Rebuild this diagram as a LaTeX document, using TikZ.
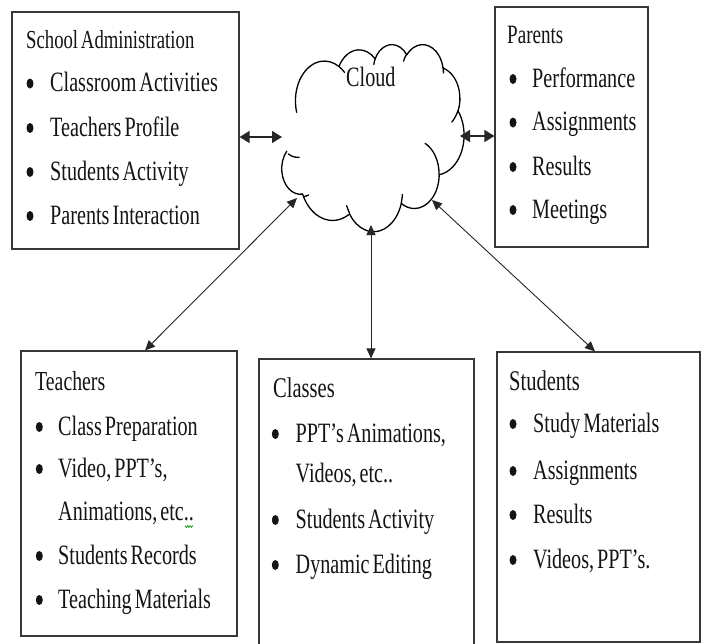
\documentclass[tikz,border=0pt]{standalone}
\usepackage{fontspec}
\setmainfont{Liberation Serif}[FakeStretch=0.72, WordSpace=0.6]
\usetikzlibrary{arrows.meta}
\newcommand\cldarc[4]{%
  \pgfmathsetmacro\cA{#3}%
  \pgfmathsetmacro\cB{#3+#4}%
  \pgfmathsetmacro\tA{atan2(#1*sin(\cA),#2*cos(\cA))}%
  \pgfmathsetmacro\tB{atan2(#1*sin(\cB),#2*cos(\cB))}%
  \pgfmathsetmacro\tB{(\tB<\tA) ? (\tB+360) : (\tB)}%
  \draw[cloudline] (cp) arc[start angle=\tA, end angle=\tB, x radius=#1, y radius=#2] coordinate (cp);%
}
\newcommand\bulat[2]{\fill[bulfill] (#1,#2) ellipse [x radius=3.5, y radius=5];}
\tikzset{
  box/.style={draw=black!78, line width=1.2pt, inner sep=0pt, fill=none},
  txt/.style={inner sep=0pt, anchor=base west, text=black!92,
    font=\fontsize{28}{30}\selectfont},
  ttl/.style={txt, font=\fontsize{#1}{30}\selectfont},
  cloudline/.style={draw=black, line width=1.3pt, line cap=round},
  link/.style={draw=black!85, line width=0.9pt, >={Triangle[length=10pt,width=9pt]}, <->},
  hlink/.style={draw=black!85, line width=1.5pt, >={Triangle[length=10pt,width=12pt]}, <->},
  bulfill/.style={fill=black!92},
  squig/.style={draw=green!55!black, line width=0.6pt}
}
\begin{document}
\begin{tikzpicture}[x=1pt,y=1pt]
\useasboundingbox (0,0) rectangle (707,-643);
\fill[white] (0,0) rectangle (707,-643);
\clip (0,0) rectangle (707,-643);

% boxes
\node[box, minimum width=227, minimum height=237] (sa) at (125.5,-130.5) {};
\node[box, minimum width=153, minimum height=240] (par) at (571.5,-127) {};
\node[box, minimum width=216, minimum height=285] (tea) at (129,-493.5) {};
\node[box, minimum width=215, minimum height=301] (cla) at (366.5,-509.5) {};
\node[box, minimum width=203, minimum height=290] (stu) at (598.5,-497) {};

% cloud (Word cloud outline)
\begin{scope}[shift={(279,-44)}, xscale=185/432, yscale=-187/432]
  \coordinate (cp) at (39.00,143.70);
  \cldarc{67.53}{91.90}{-190.487483}{123.780533}
  \cldarc{53.33}{72.67}{-144.102383}{89.945233}
  \cldarc{43.65}{59.45}{-145.807917}{99.723017}
  \cldarc{48.57}{65.95}{-130.986067}{117.241733}
  \cldarc{53.33}{72.73}{-78.708883}{109.026917}
  \cldarc{67.75}{92.20}{-46.26725}{130.269}
  \cldarc{57.85}{78.67}{0.625017}{114.033333}
  \cldarc{67.52}{92.15}{22.4516}{115.17255}
  \cldarc{77.20}{105.43}{66.242633}{81.374433}
  \cldarc{43.60}{59.18}{-274.942083}{146.735567}
  % inner strokes
  \coordinate (cp) at (46.93,261.77);  \cldarc{43.45}{59.45}{86.742}{26.4295}
  \coordinate (cp) at (69.28,348.99);  \cldarc{43.60}{59.18}{73.61047}{11.44747}
  \coordinate (cp) at (164.78,390.90); \cldarc{67.52}{92.15}{137.62415}{14.0811}
  \coordinate (cp) at (288.27,347.51); \cldarc{67.52}{92.15}{6.45327}{15.99835}
  \coordinate (cp) at (341.29,229.54); \cldarc{57.85}{78.67}{-70.29235}{70.91737}
  \coordinate (cp) at (417.98,153.54); \cldarc{53.33}{72.73}{30.31803}{27.7515}
  \coordinate (cp) at (383.24,54.26);  \cldarc{48.57}{65.95}{-13.74433}{14.8589}
  \coordinate (cp) at (290.78,39.52);  \cldarc{48.57}{65.95}{-149.18145}{18.19537}
  \coordinate (cp) at (221.41,47.20);  \cldarc{43.65}{59.45}{-163.49427}{17.68635}
  \coordinate (cp) at (140.00,51.92);  \cldarc{67.53}{91.90}{-66.70695}{12.31935}
  \coordinate (cp) at (41.27,157.89);  \cldarc{67.53}{91.90}{157.65435}{11.85817}
\end{scope}
\node[txt] (cloudlbl) at (346,-86.7) {Cloud};

% cloud attachment points
\coordinate (cW) at (282,-137);
\coordinate (cE) at (460,-136);
\coordinate (cSW) at (297,-198);
\coordinate (cSE) at (432,-200);
\coordinate (cS) at (371,-225);

% connectors
\draw[hlink] ([yshift=-6.5pt]sa.east) -- (cW);
\draw[hlink] (cE) -- ([yshift=-9pt]par.west);
\draw[link] (cSW) -- ([xshift=16pt]tea.north);
\draw[link] (cS) -- ([xshift=4.5pt]cla.north);
\draw[link] (cSE) -- ([xshift=-3.5pt]stu.north);

% School Administration
\node[ttl=26] (sa0) at (26,-48) {School Administration};
\bulat{30}{-83.5}\node[txt] (sa1) at (50,-91.5) {Classroom Activities};
\bulat{30}{-128}\node[txt] (sa2) at (50,-136) {Teachers Profile};
\bulat{30}{-172}\node[txt] (sa3) at (50,-180) {Students Activity};
\bulat{30}{-216}\node[txt] (sa4) at (50,-224) {Parents Interaction};

% Parents
\node[ttl=26.5] (par0) at (507,-43) {Parents};
\bulat{513}{-79}\node[txt] (par1) at (532,-87) {Performance};
\bulat{513}{-122.5}\node[txt] (par2) at (532,-130.5) {Assignments};
\bulat{513}{-167}\node[txt] (par3) at (532,-175) {Results};
\bulat{513}{-210}\node[txt] (par4) at (532,-218) {Meetings};

% Teachers
\node[ttl=27.5] (tea0) at (35,-390) {Teachers};
\bulat{39.3}{-427}\node[txt] (tea1) at (58,-435) {Class Preparation};
\bulat{39.3}{-469}\node[txt] (tea2) at (58,-477) {Video, PPT’s,};
\node[txt] (tea2b) at (58,-520) {Animations, etc..};
\bulat{39.3}{-556}\node[txt] (tea3) at (58,-564) {Students Records};
\bulat{39.3}{-600}\node[txt] (tea4) at (58,-608) {Teaching Materials};
\draw[squig] (185,-525.5) -- ++(1.3,-2) -- ++(1.3,2) -- ++(1.3,-2) -- ++(1.3,2) -- ++(1.3,-2) -- ++(1.3,2);

% Classes
\node[ttl=28.5] (cla0) at (273,-397) {Classes};
\bulat{275.3}{-434}\node[txt] (cla1) at (295.5,-442) {PPT’s Animations,};
\node[txt] (cla1b) at (295.5,-482) {Videos, etc..};
\bulat{275.3}{-520}\node[txt] (cla2) at (295.5,-528) {Students Activity};
\bulat{275.3}{-565}\node[txt] (cla3) at (295.5,-573) {Dynamic Editing};

% Students
\node[ttl=28.5] (stu0) at (509,-390) {Students};
\bulat{513}{-424}\node[txt] (stu1) at (533,-432) {Study Materials};
\bulat{513}{-471}\node[txt] (stu2) at (533,-479) {Assignments};
\bulat{513}{-515}\node[txt] (stu3) at (533,-523) {Results};
\bulat{513}{-560}\node[txt] (stu4) at (533,-568) {Videos, PPT’s.};
\end{tikzpicture}
\end{document}
